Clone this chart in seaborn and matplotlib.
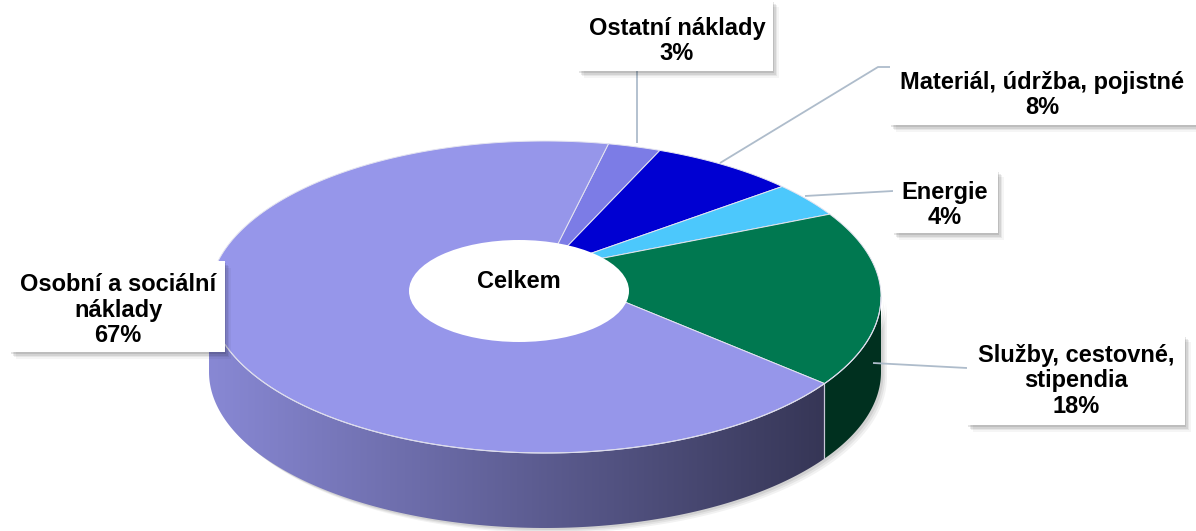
import numpy as np
import matplotlib
matplotlib.use("Agg")
import matplotlib.pyplot as plt
import seaborn as sns
from matplotlib.patches import Polygon, Ellipse, Rectangle
from matplotlib.colors import to_rgb

# ---------------- data ----------------
categories = ["Ostatní náklady", "Materiál, údržba, pojistné", "Energie",
              "Služby, cestovné,\nstipendia", "Osobní a sociální\nnáklady"]
values = [3, 8, 4, 18, 67]
top_colors = ["#7C7CE6", "#0000D2", "#4CC8FC", "#007850", "#9696EA"]
side_colors = ["#4A4A8C", "#000080", "#2A7090", "#00301F", None]  # last one uses gradient
center_label = "Celkem"

sns.set_theme(style="white")
plt.rcParams['font.family'] = ['Liberation Sans', 'DejaVu Sans']

W, H = 1196, 531
fig = plt.figure(figsize=(W / 100, H / 100), dpi=100)
ax = fig.add_axes([0, 0, 1, 1])
ax.set_xlim(0, W)
ax.set_ylim(H, 0)
ax.axis("off")

# ---------------- geometry of the 3-D pie ----------------
CX, CY, RX, RY = 545, 297, 336, 156
A = 0.177          # perspective tilt
DEPTH = 75
START = 77.0       # world angle of the first boundary (deg), clockwise


def proj(theta_deg):
    t = np.radians(theta_deg)
    u, v = np.cos(t), np.sin(t)
    d = 1 + A * v
    u2 = u * np.sqrt(1 - A ** 2) / d
    v2 = (v + A) / d
    return CX + RX * u2, CY - RY * v2


apex = (CX, CY - RY * A)
vis_hi = np.degrees(np.arcsin(-A))       # right end of visible wall
vis_lo = -180 - vis_hi                  # left end of visible wall

fracs = np.array(values) / np.sum(values)
bounds = START - 360 * np.concatenate([[0], np.cumsum(fracs)])

# soft shadow under the pie
th_all = np.linspace(vis_hi, vis_lo, 200)
for k, a in zip([10, 7, 4], [0.05, 0.06, 0.08]):
    xs, ys = proj(th_all)
    pts = list(zip(xs + k * 0.6, ys + DEPTH + k * 0.5)) + list(zip(xs[::-1] + k * 0.6, ys[::-1] + k * 0.5))
    ax.add_patch(Polygon(pts, closed=True, facecolor="black", alpha=a, lw=0, zorder=1))

# side walls
for i in range(len(values)):
    hi, lo = bounds[i], bounds[i + 1]
    a_hi = min(hi, vis_hi)
    a_lo = max(lo, vis_lo)
    if a_hi <= a_lo:
        continue
    th = np.linspace(a_hi, a_lo, 150)
    xs, ys = proj(th)
    pts = list(zip(xs, ys)) + list(zip(xs[::-1], ys[::-1] + DEPTH))
    if side_colors[i] is None:
        poly = Polygon(pts, closed=True, facecolor="none", edgecolor="none", zorder=2)
        ax.add_patch(poly)
        c0 = np.array(to_rgb("#8888D4"))
        c1 = np.array(to_rgb("#363656"))
        n = 256
        tt = np.linspace(0, 1, n)[:, None]
        grad = (c0 * (1 - tt) + c1 * tt)[None, :, :]
        im = ax.imshow(grad, extent=(xs.min(), xs.max(), ys.max() + DEPTH, ys.min()),
                       aspect="auto", zorder=2, interpolation="bilinear")
        im.set_clip_path(poly)
    else:
        ax.add_patch(Polygon(pts, closed=True, facecolor=side_colors[i],
                             edgecolor="none", zorder=2))
    for a in (a_hi, a_lo):
        if vis_lo < a < vis_hi:
            x0, y0 = proj(a)
            ax.plot([x0, x0], [y0, y0 + DEPTH], color="#C8C8D8", lw=0.8, zorder=3)

# top face wedges
for i in range(len(values)):
    th = np.linspace(bounds[i], bounds[i + 1], 200)
    xs, ys = proj(th)
    pts = [apex] + list(zip(xs, ys))
    ax.add_patch(Polygon(pts, closed=True, facecolor=top_colors[i],
                         edgecolor="#E4E4F0", lw=0.7, zorder=4))

# light rim along the front edge
xs, ys = proj(np.linspace(vis_hi, vis_lo, 200))
ax.plot(xs, ys, color="#DCDCEC", lw=0.8, zorder=5)

# centre "hole" with label
ax.add_patch(Ellipse((519, 291), 220, 102, facecolor="white", edgecolor="none", zorder=6))
ax.text(519, 281, center_label, ha="center", va="center", fontsize=17,
        fontweight="bold", color="black", zorder=7)

# ---------------- labels ----------------
label_lines = [f"{c}\n{v}%" for c, v in zip(categories, values)]
boxes = [  # x, y, w, h in pixels
    (578, 0, 195, 71),
    (890, 62, 306, 63),
    (893, 170, 105, 63),
    (967, 335, 218, 90),
    (10, 261, 215, 91),
]
text_centers = [(677, 41), (1042, 95), (945, 205), (1076, 381), (118, 310)]
leaders = [
    [(637, 71), (637, 143)],
    [(720, 163), (878, 67), (890, 67)],
    [(805, 196), (893, 191)],
    [(873, 363), (967, 368)],
    None,
]

for (bx, by, bw, bh), (tx, ty), txt, ld in zip(boxes, text_centers, label_lines, leaders):
    if ld is not None:
        lx, ly = zip(*ld)
        ax.plot(lx, ly, color="#AEBCCB", lw=1.3, zorder=8, solid_capstyle="butt")
    for k, a in zip([8, 6, 4, 2], [0.04, 0.06, 0.08, 0.10]):
        ax.add_patch(Rectangle((bx + k * 0.7, by + k * 0.9), bw, bh, facecolor="black",
                               alpha=a, lw=0, zorder=9))
    ax.add_patch(Rectangle((bx, by), bw, bh, facecolor="white", edgecolor="none", zorder=10))
    ax.text(tx, ty, txt, ha="center", va="center", fontsize=17, fontweight="bold",
            color="black", linespacing=1.15, zorder=11)

fig.savefig("out.png", dpi=100)
